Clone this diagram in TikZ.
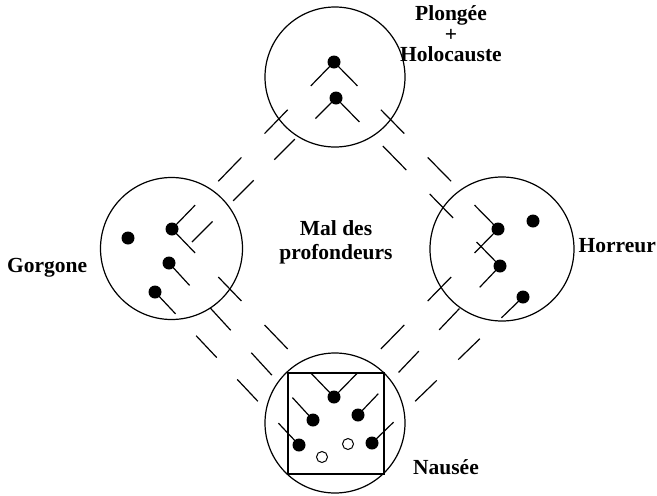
\documentclass[tikz,border=0pt]{standalone}
\usepackage{fontspec}
\setmainfont{Liberation Serif}
\usetikzlibrary{calc}
\newcommand\dashlink[2]{%
  \draw[link] (#1.center) -- ($(#1.center)!1/7!(#2.center)$)
    ($(#1.center)!2/7!(#2.center)$) -- ($(#1.center)!3/7!(#2.center)$)
    ($(#1.center)!4/7!(#2.center)$) -- ($(#1.center)!5/7!(#2.center)$)
    ($(#1.center)!6/7!(#2.center)$) -- (#2.center);}
\tikzset{
  ring/.style={circle, draw, inner sep=0pt, line width=1.2pt},
  dot/.style={circle, fill=black, inner sep=0pt, minimum size=13pt},
  hole/.style={circle, draw, fill=white, inner sep=0pt, minimum size=11pt, line width=1pt},
  link/.style={line width=1.2pt},
  lab/.style={font=\bfseries\fontsize{21.5}{24}\selectfont, inner sep=0pt, anchor=base},
}
\begin{document}
\begin{tikzpicture}[x=1pt, y=-1pt]
\useasboundingbox (0,0) rectangle (657,496);
% circles
\node[ring, minimum size=140pt] (top) at (335,77) {};
\node[ring, minimum size=142pt] (left) at (171.5,248.5) {};
\node[ring, minimum size=144pt] (right) at (502,249) {};
\node[ring, minimum size=140pt] (bottom) at (335,423) {};
\node[draw, line width=1.2pt, inner sep=0pt, minimum width=96pt, minimum height=101pt] (frame) at (336,423.5) {};
% dots
\node[dot] (d1) at (334,62) {};
\node[dot] (d2) at (336,98) {};
\node[dot] (A) at (128,238) {};
\node[dot] (B) at (172,229) {};
\node[dot] (C) at (169,263) {};
\node[dot] (D) at (155,292) {};
\coordinate (S) at (192,242);
\node[dot] (R1) at (498,229) {};
\node[dot] (R2) at (500,266) {};
\node[dot] (R3) at (533,221) {};
\node[dot] (R4) at (523,297) {};
\node[dot] (N1) at (334,397) {};
\node[dot] (N2) at (313,420) {};
\node[dot] (N3) at (358,415) {};
\node[dot] (N4) at (299,445) {};
\node[dot] (N5) at (372,443) {};
\node[hole] (O1) at (348,444) {};
\node[hole] (O2) at (322,457) {};
% dashed links
\dashlink{B}{d1}
\dashlink{S}{d2}
\dashlink{d1}{R1}
\dashlink{d2}{R2}
\dashlink{R1}{N1}
\dashlink{R2}{N3}
\dashlink{R4}{N5}
\dashlink{B}{N1}
\dashlink{C}{N2}
\dashlink{D}{N4}
% labels
\node[lab] (t1) at (451,20) {Plongée};
\node[lab] (t2) at (451,41) {+};
\node[lab] (t3) at (451,61) {Holocauste};
\node[lab] (m1) at (336,235) {Mal des};
\node[lab] (m2) at (336,259) {profondeurs};
\node[lab, anchor=base west] (g) at (7,272) {Gorgone};
\node[lab, anchor=base east] (h) at (656,252) {Horreur};
\node[lab] (n) at (446,474) {Nausée};
\end{tikzpicture}
\end{document}
